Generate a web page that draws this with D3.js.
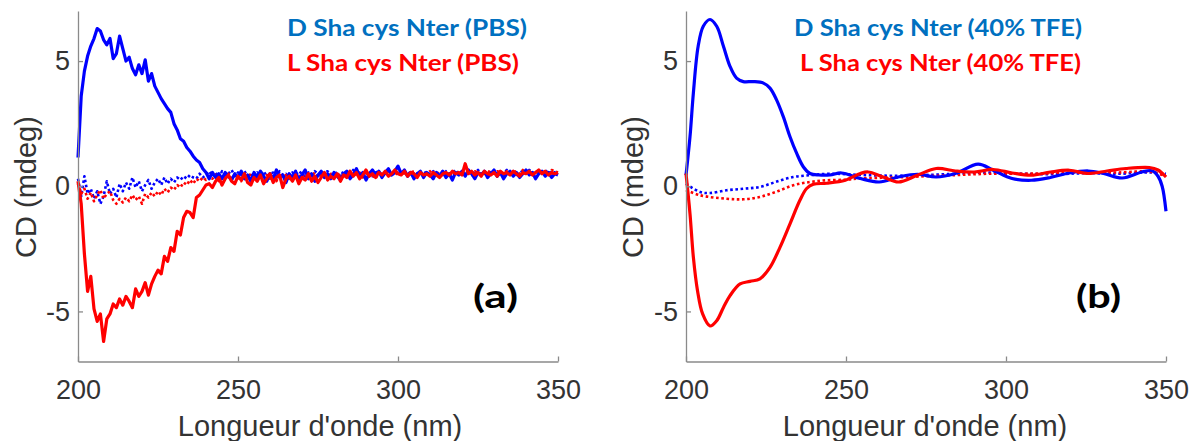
<!DOCTYPE html>
<html>
<head>
<meta charset="utf-8">
<script src="https://cdn.jsdelivr.net/npm/d3@7"></script>
<style>
  html, body { margin: 0; padding: 0; background: #fff; }
  svg { display: block; }
</style>
</head>
<body>
<svg id="chart" width="1190" height="441"></svg>
<script>
// ---------------- DATA ----------------
// Panel (a): PBS, sampled every 1 nm from 200 to 350 nm
const wavelengthsPBS = d3.range(200, 351, 1);

const dPBS = [
  1.15, 3.6, 4.6, 5.2, 5.6, 5.9, 6.3, 6.2, 5.85, 5.65,
  5.9, 5.1, 5.3, 6.0, 5.5, 5.0, 5.15, 4.7, 4.45, 4.85,
  4.5, 5.05, 4.2, 4.5, 4.0, 3.75, 3.5, 3.3, 3.1, 2.95,
  2.5, 2.25, 1.9, 1.8, 1.55, 1.4, 1.2, 1.05, 0.95, 0.7,
  0.55, 0.3, 0.55, 0.35, 0.5, 0.3, 0.55, 0.4, 0.25, 0.5,
  0.35, 0.6, 0.3, 0.45, 0.2, 0.55, 0.35, 0.6, 0.4, 0.2,
  0.5, 0.3, 0.65, 0.35, 0.45, 0.15, 0.5, 0.35, 0.6, 0.25,
  0.45, 0.65, 0.3, 0.5, 0.2, 0.45, 0.6, 0.35, 0.5, 0.3,
  0.55, 0.4, 0.25, 0.5, 0.6, 0.3, 0.45, 0.7, 0.4, 0.55,
  0.25, 0.5, 0.65, 0.45, 0.6, 0.35, 0.55, 0.7, 0.45, 0.6,
  0.8, 0.5, 0.65, 0.4, 0.55, 0.3, 0.5, 0.6, 0.35, 0.55,
  0.45, 0.3, 0.55, 0.4, 0.6, 0.35, 0.5, 0.25, 0.55, 0.45,
  0.6, 0.4, 0.65, 0.5, 0.3, 0.55, 0.45, 0.6, 0.35, 0.5,
  0.65, 0.4, 0.55, 0.3, 0.5, 0.6, 0.4, 0.55, 0.35, 0.5,
  0.65, 0.45, 0.55, 0.3, 0.5, 0.6, 0.4, 0.55, 0.35, 0.5,
  0.45
];

const lPBS = [
  0.2, -0.7, -2.7, -4.2, -3.6, -4.9, -5.4, -5.1, -6.2, -5.3,
  -5.1, -4.7, -4.85, -4.5, -4.75, -4.4, -4.6, -4.85, -4.1, -4.4,
  -4.2, -3.85, -4.35, -3.9, -3.6, -3.35, -3.5, -2.8, -3.0, -2.45,
  -2.6, -1.8, -1.95, -1.25, -1.0, -1.05, -1.25, -0.45, -0.35, -0.15,
  0.05, 0.1, -0.05, 0.2, 0.35, 0.05, 0.3, 0.45, 0.2, 0.1,
  0.4, 0.25, 0.5, 0.15, 0.05, 0.35, 0.2, 0.45, 0.1, 0.3,
  0.5, 0.15, 0.35, 0.45, -0.05, 0.3, 0.4, 0.2, 0.45, 0.1,
  0.35, 0.25, 0.5, 0.2, 0.4, 0.15, 0.35, 0.55, 0.25, 0.4,
  0.3, 0.5, 0.2, 0.45, 0.35, 0.6, 0.4, 0.55, 0.3, 0.45,
  0.65, 0.4, 0.5, 0.35, 0.55, 0.45, 0.6, 0.4, 0.5, 0.65,
  0.5, 0.45, 0.6, 0.4, 0.55, 0.5, 0.35, 0.55, 0.45, 0.5,
  0.4, 0.55, 0.45, 0.35, 0.5, 0.55, 0.45, 0.6, 0.5, 0.55,
  0.45, 0.9, 0.5, 0.6, 0.45, 0.55, 0.4, 0.6, 0.5, 0.45,
  0.55, 0.4, 0.6, 0.5, 0.55, 0.45, 0.6, 0.5, 0.4, 0.55,
  0.5, 0.6, 0.45, 0.55, 0.65, 0.5, 0.6, 0.45, 0.55, 0.5,
  0.55
];

const dPBSdotted = [
  0.3, -0.4, 0.4, -0.3, -0.1, -0.5, -0.2, -0.7, -0.4, 0.2,
  -0.3, -0.1, -0.45, 0.1, -0.2, 0.15, -0.1, 0.35, -0.05, 0.2,
  -0.2, 0.05, 0.25, -0.1, 0.15, 0.3, 0.05, 0.35, 0.1, 0.3,
  0.15, 0.35, 0.25, 0.4, 0.3, 0.45, 0.35, 0.3, 0.5, 0.35,
  0.45, 0.6, 0.4, 0.55, 0.35, 0.6, 0.45, 0.5, 0.65, 0.4,
  0.55, 0.45, 0.6, 0.4, 0.5, 0.35, 0.55, 0.45, 0.6, 0.4,
  0.5, 0.55, 0.4, 0.6, 0.45, 0.5, 0.35, 0.55, 0.45, 0.6,
  0.5, 0.4, 0.55, 0.45, 0.6, 0.5, 0.4, 0.55, 0.6, 0.45,
  0.5, 0.55, 0.4, 0.6, 0.5, 0.45, 0.65, 0.5, 0.55, 0.45,
  0.6, 0.5, 0.4, 0.55, 0.6, 0.45, 0.5, 0.6, 0.55, 0.45,
  0.6, 0.5, 0.55, 0.45, 0.6, 0.5, 0.4, 0.55, 0.6, 0.5,
  0.45, 0.6, 0.5, 0.55, 0.45, 0.6, 0.5, 0.55, 0.65, 0.5,
  0.55, 0.45, 0.6, 0.5, 0.55, 0.65, 0.5, 0.45, 0.6, 0.55,
  0.5, 0.6, 0.45, 0.55, 0.65, 0.5, 0.6, 0.45, 0.55, 0.6,
  0.5, 0.65, 0.55, 0.5, 0.6, 0.55, 0.65, 0.5, 0.6, 0.55,
  0.6
];

const lPBSdotted = [
  0.1, -0.3, -0.1, -0.5, -0.25, -0.6, -0.35, -0.15, -0.5, -0.3,
  -0.2, -0.55, -0.7, -0.5, -0.65, -0.45, -0.6, -0.35, -0.55, -0.4,
  -0.7, -0.3, -0.45, -0.25, -0.4, -0.2, -0.35, -0.1, -0.25, -0.05,
  -0.15, 0.05, -0.05, 0.15, 0.05, 0.25, 0.1, 0.3, 0.2, 0.35,
  0.25, 0.4, 0.3, 0.45, 0.2, 0.4, 0.35, 0.5, 0.3, 0.45,
  0.35, 0.2, 0.45, 0.3, 0.5, 0.25, 0.4, 0.35, 0.15, 0.45,
  0.3, 0.4, 0.2, 0.5, 0.35, 0.45, 0.3, 0.25, 0.45, 0.35,
  0.5, 0.3, 0.45, 0.4, 0.55, 0.35, 0.5, 0.4, 0.3, 0.5,
  0.45, 0.55, 0.35, 0.5, 0.45, 0.6, 0.4, 0.5, 0.55, 0.35,
  0.5, 0.6, 0.45, 0.3, 0.55, 0.5, 0.45, 0.6, 0.5, 0.55,
  0.45, 0.6, 0.5, 0.45, 0.55, 0.6, 0.5, 0.45, 0.55, 0.5,
  0.6, 0.45, 0.55, 0.5, 0.6, 0.5, 0.55, 0.45, 0.6, 0.5,
  0.55, 0.6, 0.5, 0.45, 0.6, 0.55, 0.5, 0.45, 0.6, 0.55,
  0.5, 0.6, 0.55, 0.45, 0.6, 0.5, 0.55, 0.6, 0.5, 0.65,
  0.55, 0.6, 0.5, 0.55, 0.65, 0.5, 0.6, 0.55, 0.65, 0.6,
  0.55
];

// Panel (b): 40% TFE (smooth curves, read at control wavelengths)
const dTFEnm = [200, 201.25, 202.3, 203.8, 205.4, 207.5, 209.6, 211.7, 213.75, 215.8, 217.9, 221, 224.2, 226.25, 228.3, 230.4, 232.5, 234.6, 236.7, 238.75, 241.5, 245, 248.6, 254.5, 260.4, 266.4, 272.3, 278.2, 284.2, 291.3, 296, 301.9, 307.9, 313.9, 319.8, 325.7, 330.5, 336.3, 342.5, 345.6, 347.5, 348.8, 350];
const dTFE   = [0.44, 1.98, 3.72, 5.59, 6.39, 6.66, 6.39, 5.59, 4.79, 4.32, 4.18, 4.18, 4.12, 3.92, 3.45, 2.78, 1.98, 1.31, 0.77, 0.51, 0.45, 0.45, 0.53, 0.31, 0.17, 0.37, 0.48, 0.37, 0.51, 0.88, 0.64, 0.31, 0.24, 0.35, 0.53, 0.61, 0.51, 0.33, 0.57, 0.62, 0.4, 0.0, -1.0];

const lTFEnm = [200, 201.25, 202.3, 203.6, 205.2, 207.5, 209.6, 211.7, 213.75, 216.9, 220, 223.1, 226.25, 229.4, 232.5, 235.6, 237.7, 239.8, 244, 249.8, 254.5, 256.9, 261.6, 266.4, 272.3, 278.2, 284.2, 290.1, 296, 301.9, 307.9, 313.9, 319.8, 325.7, 331.6, 337.5, 344.8, 347.5, 350];
const lTFE   = [0.51, -1.1, -2.83, -4.17, -5.1, -5.58, -5.37, -4.84, -4.37, -3.9, -3.8, -3.7, -3.24, -2.43, -1.5, -0.56, -0.09, 0.08, 0.12, 0.24, 0.51, 0.57, 0.37, 0.17, 0.44, 0.71, 0.61, 0.57, 0.67, 0.53, 0.44, 0.57, 0.64, 0.51, 0.61, 0.71, 0.75, 0.65, 0.37];

const dTFEdottedNm = [200, 204.4, 207.5, 212.7, 218, 223, 228, 233.5, 238.75, 245, 255, 265, 275, 285, 295, 305, 315, 325, 335, 345, 350];
const dTFEdotted   = [0.1, -0.23, -0.27, -0.16, -0.1, -0.03, 0.17, 0.37, 0.44, 0.5, 0.45, 0.42, 0.45, 0.5, 0.55, 0.5, 0.48, 0.52, 0.5, 0.55, 0.5];

const lTFEdottedNm = [200, 204.4, 212.7, 218, 223, 228, 233.5, 238.75, 244, 250, 254.4, 265, 275, 285, 295, 305, 315, 325, 335, 345, 350];
const lTFEdotted   = [-0.15, -0.36, -0.5, -0.52, -0.43, -0.23, 0.04, 0.17, 0.24, 0.26, 0.31, 0.35, 0.4, 0.45, 0.5, 0.5, 0.52, 0.55, 0.55, 0.58, 0.4];

const xTicks = [200, 250, 300, 350];
const yTicks = [-5, 0, 5];
const legendPBS = ["D Sha cys Nter (PBS)", "L Sha cys Nter (PBS)"];
const legendTFE = ["D Sha cys Nter (40% TFE)", "L Sha cys Nter (40% TFE)"];
const panelLabels = ["(a)", "(b)"];
const xTitle = "Longueur d'onde (nm)";
const yTitle = "CD (mdeg)";

// ---------------- DRAWING ----------------
const svg = d3.select("#chart");
const BLUE = "#0000ff", RED = "#ff0000";
const TXT_BLUE = "#0070c0", TXT_RED = "#ff0000";
const AXIS_FONT = "'Liberation Sans', Arial, sans-serif";
const LEG_FONT = "Lato, 'Open Sans', sans-serif";
const TEXT_GRAY = "#333333";

const panels = [
  {
    x0: 78, x1: 558, titleX: 320, yTitleX: 26,
    legend: legendPBS, legendX: [287, 287], legendW: [240, 232],
    label: panelLabels[0], labelX: 473, labelW: 45,
    series: [
      {x: wavelengthsPBS, y: dPBSdotted, color: BLUE, dotted: true, curve: d3.curveLinear},
      {x: wavelengthsPBS, y: lPBSdotted, color: RED, dotted: true, curve: d3.curveLinear},
      {x: wavelengthsPBS, y: dPBS, color: BLUE, dotted: false, curve: d3.curveLinear},
      {x: wavelengthsPBS, y: lPBS, color: RED, dotted: false, curve: d3.curveLinear}
    ]
  },
  {
    x0: 686, x1: 1166, titleX: 925, yTitleX: 633,
    legend: legendTFE, legendX: [794, 800], legendW: [288, 281],
    label: panelLabels[1], labelX: 1076, labelW: 45,
    series: [
      {x: dTFEdottedNm, y: dTFEdotted, color: BLUE, dotted: true, curve: d3.curveCatmullRom},
      {x: lTFEdottedNm, y: lTFEdotted, color: RED, dotted: true, curve: d3.curveCatmullRom},
      {x: dTFEnm, y: dTFE, color: BLUE, dotted: false, curve: d3.curveCatmullRom},
      {x: lTFEnm, y: lTFE, color: RED, dotted: false, curve: d3.curveCatmullRom}
    ]
  }
];

const yTop = 11, yBot = 361.5;

panels.forEach(p => {
  const x = d3.scaleLinear().domain([200, 350]).range([p.x0, p.x1]);
  const y = d3.scaleLinear().domain([-7, 7]).range([yBot, yTop]);
  const g = svg.append("g");

  // series
  p.series.forEach(s => {
    const pts = s.x.map((v, i) => [v, s.y[i]]);
    const line = d3.line().x(d => x(d[0])).y(d => y(d[1])).curve(s.curve);
    g.append("path")
      .attr("d", line(pts))
      .attr("fill", "none")
      .attr("stroke", s.color)
      .attr("stroke-width", s.dotted ? 2.6 : 3.2)
      .attr("stroke-linejoin", "round")
      .attr("stroke-dasharray", s.dotted ? "2.6,2.6" : null);
  });

  // axes
  const xAxis = d3.axisBottom(x).tickValues(xTicks).tickSizeInner(-5).tickSizeOuter(0).tickPadding(18).tickFormat(d => String(d));
  const yAxis = d3.axisLeft(y).tickValues(yTicks).tickSizeInner(-5).tickSizeOuter(0).tickPadding(8).tickFormat(d => String(d));

  const gx = g.append("g").attr("transform", `translate(0,${yBot})`).call(xAxis);
  const gy = g.append("g").attr("transform", `translate(${p.x0},0)`).call(yAxis);
  [gx, gy].forEach(a => {
    a.select(".domain").attr("stroke", "#8a8a8a").attr("stroke-width", 1.3);
    a.selectAll(".tick line").attr("stroke", "#8a8a8a").attr("stroke-width", 1.3);
    a.selectAll(".tick text").attr("fill", TEXT_GRAY).style("font-family", AXIS_FONT).style("font-size", "27px");
  });

  // axis titles
  g.append("text")
    .attr("x", p.titleX).attr("y", 436)
    .attr("text-anchor", "middle")
    .attr("fill", TEXT_GRAY)
    .style("font-family", AXIS_FONT).style("font-size", "29px")
    .text(xTitle);
  g.append("text")
    .attr("transform", `translate(${p.yTitleX},${187}) rotate(-90)`)
    .attr("text-anchor", "middle")
    .attr("dy", "0.35em")
    .attr("fill", TEXT_GRAY)
    .style("font-family", AXIS_FONT).style("font-size", "29px")
    .text(yTitle);

  // legend texts
  const legColors = [TXT_BLUE, TXT_RED];
  const legY = [36, 71];
  p.legend.forEach((t, i) => {
    g.append("text")
      .attr("x", p.legendX[i]).attr("y", legY[i])
      .attr("fill", legColors[i])
      .attr("textLength", p.legendW[i])
      .attr("lengthAdjust", "spacingAndGlyphs")
      .style("font-family", LEG_FONT).style("font-weight", "bold").style("font-size", "23px")
      .text(t);
  });

  // panel label
  g.append("text")
    .attr("x", p.labelX).attr("y", 308)
    .attr("fill", "#000")
    .attr("textLength", p.labelW)
    .attr("lengthAdjust", "spacingAndGlyphs")
    .style("font-family", LEG_FONT).style("font-weight", "bold").style("font-size", "33px")
    .text(p.label);
});
</script>
</body>
</html>
